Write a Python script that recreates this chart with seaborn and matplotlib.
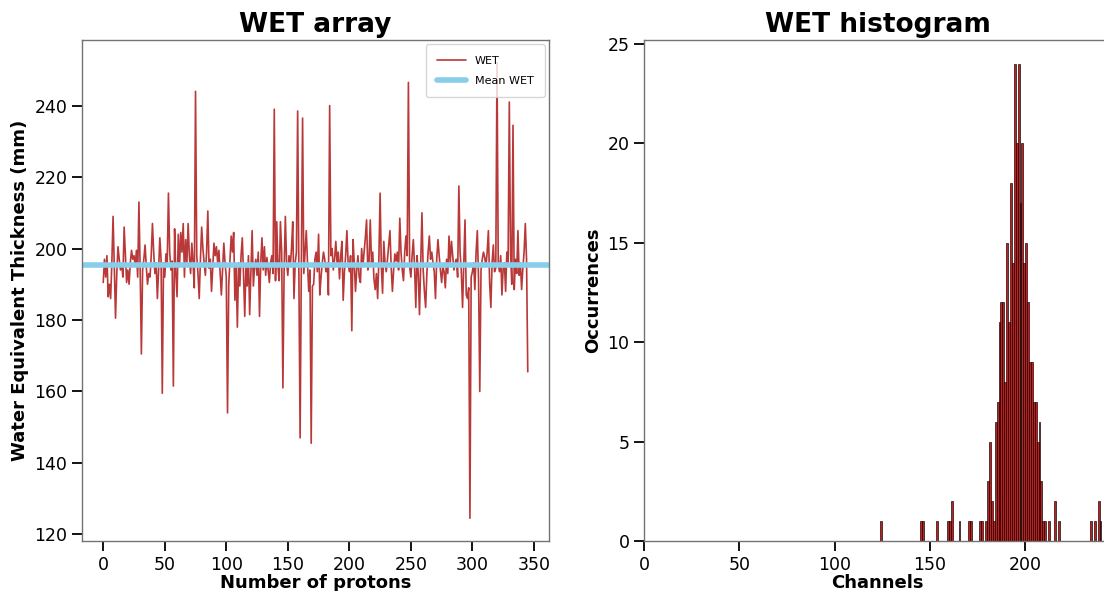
import numpy as np
import pandas as pd
import matplotlib
matplotlib.use("Agg")
import matplotlib.pyplot as plt
import seaborn as sns

# WET per proton (mm)
wet = [
    190.5, 197, 192, 198, 186.5, 190, 186, 196, 209, 195,
    180.5, 193, 200.5, 197, 194, 195.5, 192, 206, 198, 190.5,
    194, 190, 196, 199.5, 197, 198, 195, 199.5, 192, 213,
    194.5, 170.5, 194, 197, 201, 195, 190, 193, 192, 198,
    207, 199, 193, 196, 186, 194, 203, 197, 159.5, 196,
    192, 198.5, 196, 215.5, 199, 194, 196.5, 161.5, 205.5, 193,
    186.5, 204, 195, 204.5, 199, 207, 192, 202.5, 196, 207,
    198, 193, 201.5, 196, 189, 244, 198, 193, 186, 197,
    206, 200, 196, 192.5, 199, 210.5, 194.5, 197, 188, 195,
    201.5, 198, 200.5, 196, 199.5, 193, 187, 194, 201.5, 196,
    192, 154, 190, 197, 203.5, 199, 204.5, 185.5, 195, 178,
    196, 189.5, 198, 203, 193, 181, 195, 189.5, 198, 181.5,
    193, 205, 189.5, 195, 197, 192.5, 199, 181, 196, 203,
    194, 200.5, 192.5, 197.5, 194, 190.5, 196, 198, 193, 239,
    191, 207.5, 195, 191, 207.5, 199, 161, 194, 209, 196,
    192.5, 198, 195, 200, 207.5, 186, 196, 199, 238.5, 191,
    147, 196, 236.5, 193, 199, 205, 196, 188, 194, 145.5,
    189.5, 190, 197, 199, 193.5, 204, 187, 192, 196, 199,
    197, 193.5, 196, 187, 240, 198, 200, 194, 197, 202,
    196, 199, 191.5, 198, 202, 185.5, 193.5, 198, 205, 196,
    193.5, 198, 177, 202.5, 196, 188, 194, 198, 192, 190.5,
    200, 195, 199, 203, 208, 194, 196.5, 208, 196, 199,
    191.5, 188.5, 193, 186, 197, 215.5, 195, 187.5, 202, 196,
    193.5, 197, 201, 205, 195, 188, 194, 198.5, 196.5, 199,
    194, 208.5, 199, 194, 191, 199, 203.5, 198, 246.5, 195,
    192, 198, 202.5, 195, 183.5, 198, 193, 181.5, 196, 210,
    194, 188, 183.5, 193, 199, 203.5, 197, 199, 196, 193.5,
    186, 197, 202.5, 198, 194, 190.5, 195, 193.5, 189, 197,
    193, 203.5, 196, 202, 198, 194, 196, 197, 192, 217.5,
    199, 193.5, 183.5, 196, 208, 187, 186, 189, 124.5, 192,
    193.5, 196, 188.5, 199, 205, 191.5, 160, 194, 197, 199,
    197.5, 195, 199, 205, 190.5, 183.5, 196, 201, 193.5, 194.5,
    252, 196, 193.5, 198, 187, 194.5, 196, 188, 199, 196,
    241, 199, 190, 234.5, 188.5, 197, 193, 205, 192.5, 196,
    188.5, 194.5, 199, 207, 197, 165.5,
]

# Mean WET (mm)
mean_wet = 195.4

# Histogram: channel (bin start) and occurrences
channels = [124, 145, 146, 153, 159, 160, 161, 165, 170, 171, 176, 177,
            179, 180, 181, 182, 183, 184, 185, 186, 187, 188, 189, 190,
            191, 192, 193, 194, 195, 196, 197, 198, 199, 200, 201, 202,
            203, 204, 205, 206, 207, 208, 209, 210, 212, 215, 217,
            234, 236, 238, 239]
counts = [1, 1, 1, 1, 1, 1, 2, 1, 1, 1, 1, 1,
          1, 3, 5, 2, 1, 6, 7, 11, 12, 12, 8, 15,
          11, 18, 14, 24, 20, 24, 17, 20, 14, 15, 12, 9,
          9, 7, 7, 5, 6, 3, 1, 1, 1, 2, 1,
          1, 1, 2, 1]

sns.set_style("white")
plt.rcParams['font.family'] = ['DejaVu Sans']
plt.rcParams.update({"text.color": "black", "axes.labelcolor": "black",
                     "xtick.color": "black", "ytick.color": "black"})

fig = plt.figure(figsize=(11.04, 5.91), dpi=100)
W, H = 1104, 591
ax1 = fig.add_axes([82 / W, 1 - 541 / H, (549 - 82) / W, (541 - 40) / H])
ax2 = fig.add_axes([644 / W, 1 - 541 / H, (1111 - 644) / W, (541 - 40) / H])

idx = np.arange(len(wet))
sns.lineplot(x=idx, y=wet, ax=ax1, color="#b22222", linewidth=1.2,
             alpha=0.9, label="WET")
ax1.axhline(mean_wet, color="#87ceeb", linewidth=4, label="Mean WET")
ax1.set_title("WET array", fontsize=19, fontweight="bold")
ax1.set_xlabel("Number of protons", fontsize=13, fontweight="bold", labelpad=0)
ax1.set_ylabel("Water Equivalent Thickness (mm)", fontsize=13, fontweight="bold")
ax1.set_xticks([0, 50, 100, 150, 200, 250, 300, 350])
ax1.set_yticks([120, 140, 160, 180, 200, 220, 240])
leg = ax1.legend(loc="upper right", fontsize=8, framealpha=0.8,
                 borderpad=1.0, labelspacing=0.9, handlelength=2.6,
                 borderaxespad=0.4)

hist_df = pd.DataFrame({"channel": np.array(channels, dtype=float) + 0.5,
                        "count": np.array(counts, dtype=float)})
sns.histplot(data=hist_df, x="channel", weights="count", binwidth=1,
             binrange=(0, 245), ax=ax2,
             color="#c41e1e", edgecolor="black", linewidth=0.45, alpha=1)
ax2.set_xlim(0, 245)
ax2.set_title("WET histogram", fontsize=19, fontweight="bold")
ax2.set_xlabel("Channels", fontsize=13, fontweight="bold", labelpad=0)
ax2.set_ylabel("Occurrences", fontsize=13, fontweight="bold")
ax2.set_xticks([0, 50, 100, 150, 200])
ax2.set_yticks([0, 5, 10, 15, 20, 25])

for ax in (ax1, ax2):
    ax.tick_params(axis="both", which="both", labelsize=12.5, length=7,
                   width=1.3, color="black", direction="out",
                   bottom=True, left=True)
    for s in ax.spines.values():
        s.set_color("0.45")
        s.set_linewidth(1)

fig.savefig("out.png", dpi=100)
